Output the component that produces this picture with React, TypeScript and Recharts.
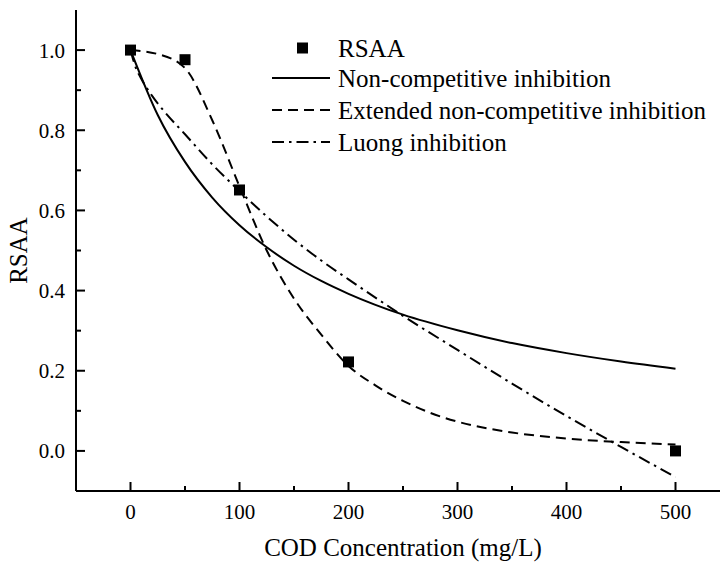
import { ComposedChart, Line, Scatter, XAxis, YAxis, Legend } from "recharts";

const FONT = "Liberation Serif, Tinos, DejaVu Serif, Times New Roman, serif";

// measured RSAA points
const rsaaX = [0, 50, 100, 200, 500];
const rsaaY = [1.0, 0.976, 0.651, 0.222, 0.0];

// fitted curves
const nonCompX = [0, 25, 50, 75, 100, 125, 150, 175, 200, 250, 300, 350, 400, 450, 500];
const nonCompY = [1.0, 0.838, 0.721, 0.632, 0.563, 0.508, 0.462, 0.424, 0.392, 0.34, 0.301, 0.269, 0.244, 0.223, 0.205];

const extX = [0, 25, 50, 75, 100, 125, 150, 175, 200, 225, 250, 275, 300, 350, 400, 450, 500];
const extY = [1.0, 0.99, 0.955, 0.825, 0.66, 0.5, 0.38, 0.29, 0.212, 0.163, 0.125, 0.095, 0.073, 0.046, 0.031, 0.022, 0.016];

const luongX = [0, 5, 10, 20, 30, 50, 75, 100, 125, 150, 175, 200, 250, 300, 350, 400, 450, 500];
const luongY = [1.0, 0.955, 0.928, 0.885, 0.85, 0.79, 0.715, 0.648, 0.585, 0.527, 0.475, 0.428, 0.337, 0.252, 0.168, 0.087, 0.01, -0.065];

const xTicks = [0, 50, 100, 150, 200, 250, 300, 350, 400, 450, 500];
const yTicks = [0, 0.1, 0.2, 0.3, 0.4, 0.5, 0.6, 0.7, 0.8, 0.9, 1.0];

const seriesNames = ["RSAA", "Non-competitive inhibition", "Extended non-competitive inhibition", "Luong inhibition"];
const dashes = ["", "", "10 6", "12 5 2.5 5"];

const toPoints = (xs: number[], ys: number[]) => xs.map((x, i) => ({ x, y: ys[i] }));

const rsaaData = toPoints(rsaaX, rsaaY);
const nonCompData = toPoints(nonCompX, nonCompY);
const extData = toPoints(extX, extY);
const luongData = toPoints(luongX, luongY);

const textStyle = { fontFamily: FONT, fill: "#000" };

const XTick = ({ x, y, payload }: any) => {
    const major = payload.value % 100 === 0;
    return (
        <g>
            <line x1={x} x2={x} y1={y} y2={y - (major ? 9 : 5)} stroke="#000" strokeWidth={2} />
            {major && (
                <text x={x} y={y + 28} textAnchor="middle" fontSize={21} style={textStyle}>
                    {payload.value}
                </text>
            )}
        </g>
    );
};

const YTick = ({ x, y, payload }: any) => {
    const major = Math.round(payload.value * 10) % 2 === 0;
    return (
        <g>
            <line x1={x} x2={x + (major ? 9 : 5)} y1={y} y2={y} stroke="#000" strokeWidth={2} />
            {major && (
                <text x={x - 11} y={y + 7.5} textAnchor="end" fontSize={21} style={textStyle}>
                    {payload.value.toFixed(1)}
                </text>
            )}
        </g>
    );
};

const XTitle = ({ viewBox }: any) => (
    <text x={viewBox.x + viewBox.width / 2} y={556} textAnchor="middle" fontSize={25} style={textStyle}>
        COD Concentration (mg/L)
    </text>
);

const YTitle = ({ viewBox }: any) => {
    const cy = viewBox.y + viewBox.height / 2;
    return (
        <text x={27} y={cy} transform={`rotate(-90 27 ${cy})`} textAnchor="middle" fontSize={25} style={textStyle}>
            RSAA
        </text>
    );
};

const Square = ({ cx, cy }: any) => <rect x={cx - 5.5} y={cy - 5.5} width={11} height={11} fill="#000" />;

const LegendBox = () => {
    const rows = [20, 50, 82, 114];
    return (
        <svg width={460} height={140} style={{ display: "block" }}>
            {seriesNames.map((name, i) => (
                <g key={name}>
                    {i === 0 ? (
                        <rect x={37} y={rows[i] - 5.5} width={11} height={11} fill="#000" />
                    ) : (
                        <line x1={12} x2={70} y1={rows[i]} y2={rows[i]} stroke="#000" strokeWidth={2} strokeDasharray={dashes[i]} />
                    )}
                    <text x={78} y={rows[i] + 9} fontSize={25} style={textStyle}>
                        {name}
                    </text>
                </g>
            ))}
        </svg>
    );
};

export default function App() {
    return (
        <div style={{ position: "fixed", left: 0, top: 0, width: 720, height: 562, overflow: "hidden", background: "#fff", fontFamily: FONT }}>
            <ComposedChart width={740} height={562} margin={{ top: 10, right: 10, bottom: 0, left: 0 }}>
                <XAxis
                    dataKey="x"
                    type="number"
                    domain={[-50, 550]}
                    ticks={xTicks}
                    interval={0}
                    allowDataOverflow
                    height={71}
                    tickSize={0}
                    tickMargin={0}
                    tickLine={false}
                    tick={<XTick />}
                    axisLine={{ stroke: "#000", strokeWidth: 2 }}
                    label={<XTitle />}
                />
                <XAxis
                    xAxisId="top"
                    orientation="top"
                    type="number"
                    domain={[-50, 550]}
                    height={0}
                    tick={false}
                    tickLine={false}
                    axisLine={{ stroke: "#000", strokeWidth: 2 }}
                />
                <YAxis
                    type="number"
                    domain={[-0.1, 1.1]}
                    ticks={yTicks}
                    interval={0}
                    allowDataOverflow
                    width={76}
                    tickSize={0}
                    tickMargin={0}
                    tickLine={false}
                    tick={<YTick />}
                    axisLine={{ stroke: "#000", strokeWidth: 2 }}
                    label={<YTitle />}
                />
                <Legend
                    content={<LegendBox />}
                    layout="vertical"
                    align="center"
                    verticalAlign="middle"
                    wrapperStyle={{ left: 260, top: 28, width: 460, height: 140 }}
                />
                <Line data={nonCompData} dataKey="y" type="monotone" stroke="#000" strokeWidth={2} dot={false} isAnimationActive={false} name={seriesNames[1]} />
                <Line data={extData} dataKey="y" type="monotone" stroke="#000" strokeWidth={2} strokeDasharray={dashes[2]} dot={false} isAnimationActive={false} name={seriesNames[2]} />
                <Line data={luongData} dataKey="y" type="monotone" stroke="#000" strokeWidth={2} strokeDasharray={dashes[3]} dot={false} isAnimationActive={false} name={seriesNames[3]} />
                <Scatter data={rsaaData} dataKey="y" fill="#000" shape={<Square />} isAnimationActive={false} name={seriesNames[0]} />
            </ComposedChart>
        </div>
    );
}
